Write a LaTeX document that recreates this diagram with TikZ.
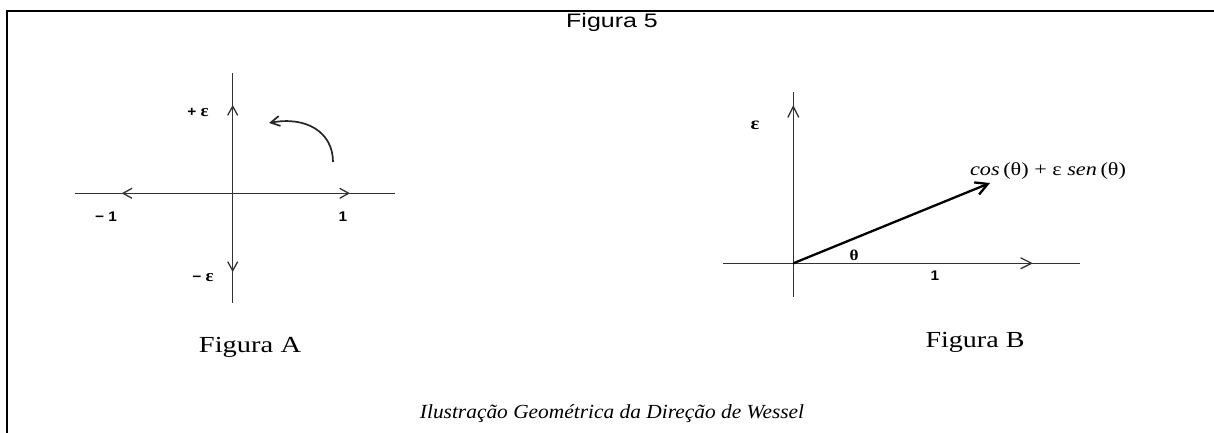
\documentclass[tikz,border=0pt]{standalone}
\usepackage{fontspec}
\setmainfont{Liberation Serif}
\newfontfamily\arial{Liberation Sans}
\usetikzlibrary{arrows.meta}
\newcommand{\hs}[2]{\scalebox{#1}[1]{#2}}
\begin{document}
\begin{tikzpicture}[x=1pt,y=-1pt,
  axis/.style={line width=1.3pt, draw=black!80},
  tipA/.style={-{Straight Barb[length=9pt,width=10pt]}},
  tipB/.style={-{Straight Barb[length=11pt,width=11pt]}},
  vec/.style={line width=2.3pt, draw=black, -{Straight Barb[length=12pt,width=13pt]}},
  lbl/.style={inner sep=0pt},
  axlbl/.style={lbl, font=\arial\bfseries\fontsize{14}{14}\selectfont},
  figcap/.style={lbl, anchor=base, font=\fontsize{23}{23}\selectfont},
]
\useasboundingbox (0,0) rectangle (1214,433);
% frame
\coordinate (bl) at (7,433);
\coordinate (tl) at (7,11);
\coordinate (tr) at (1214,11);
\draw[line width=2pt] (bl) -- (tl) -- (tr);
% title
\node[lbl, anchor=base] (title) at (612,28) {\arial\fontsize{19.5}{19.5}\selectfont\hs{1.28}{Figura 5}};

% ---------- Figura A ----------
\coordinate (AO) at (232.7,193.3);
\coordinate (Atop) at (232.7,73);
\coordinate (Abot) at (232.7,303);
\coordinate (Aleft) at (75,193.3);
\coordinate (Aright) at (395,193.3);
\coordinate (Aup) at (232.7,105);
\coordinate (Adown) at (232.7,272);
\coordinate (Al) at (121.7,193.3);
\coordinate (Ar) at (350,193.3);
\draw[axis] (Atop) -- (Abot);
\draw[axis] (Aleft) -- (Aright);
\draw[axis,tipA] (AO) -- (Aup);
\draw[axis,tipA] (AO) -- (Adown);
\draw[axis,tipA] (AO) -- (Al);
\draw[axis,tipA] (AO) -- (Ar);
\coordinate (cs) at (333,162);
\coordinate (ce) at (269,123);
\draw[line width=1.7pt, draw=black!85, tipA] (cs) .. controls (333,132) and (306,116) .. (ce);
\node[axlbl] (pe) at (198,112) {\hs{1.1}{+ {\rmfamily\bfseries\fontsize{17}{17}\selectfont ε}}};
\node[axlbl] (me) at (203,278) {\hs{1.1}{− {\rmfamily\bfseries\fontsize{17}{17}\selectfont ε}}};
\node[axlbl] (m1) at (106,217) {\hs{1.1}{− 1}};
\node[axlbl] (p1) at (343,217) {\hs{1.1}{1}};
\node[figcap] (capA) at (250,352) {\hs{1.24}{Figura A}};

% ---------- Figura B ----------
\coordinate (BO) at (793.3,263.3);
\coordinate (Btop) at (793.3,92);
\coordinate (Bbot) at (793.3,297);
\coordinate (Bleft) at (723,263.3);
\coordinate (Bright) at (1080,263.3);
\coordinate (Bup) at (793.3,105);
\coordinate (Br) at (1033,263.3);
\coordinate (Bv) at (990,183);
\draw[axis] (Btop) -- (Bbot);
\draw[axis] (Bleft) -- (Bright);
\draw[axis,tipB] (BO) -- (Bup);
\draw[axis,tipB] (BO) -- (Br);
\draw[vec] (BO) -- (Bv);
\node[lbl] (eps) at (755,125) {\fontsize{18}{18}\selectfont\hs{1.15}{\textbf{ε}}};
\node[lbl] (th) at (854,255) {\fontsize{15}{15}\selectfont\hs{1.15}{\textbf{θ}}};
\node[axlbl] (one) at (935,276) {\hs{1.1}{1}};
\node[lbl] (form) at (1048,171) {\fontsize{18.5}{18.5}\selectfont\hs{1.2}{\textit{cos}\,(θ) + ε \textit{sen}\,(θ)}};
\node[figcap] (capB) at (975,347) {\hs{1.22}{Figura B}};

% caption
\node[lbl, anchor=base] (cap) at (612,418) {\fontsize{20}{20}\selectfont\itshape\hs{1.07}{Ilustração Geométrica da Direção de Wessel}};
\end{tikzpicture}
\end{document}
